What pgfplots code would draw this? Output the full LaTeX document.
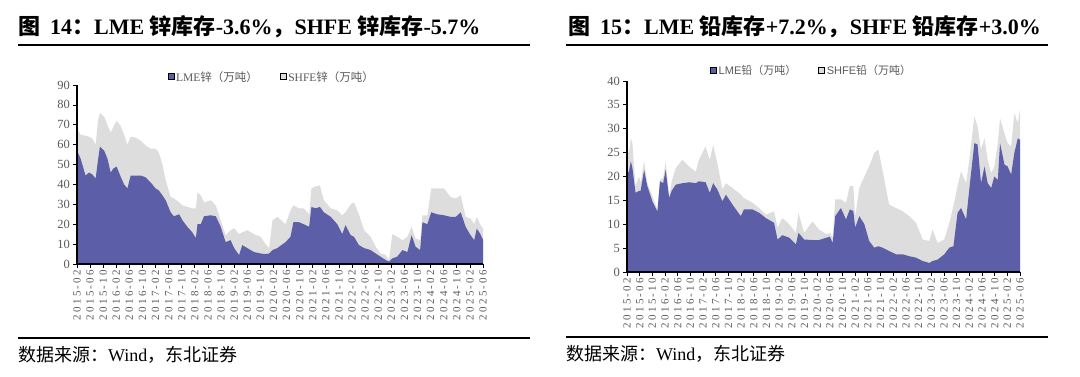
\documentclass[border=0pt]{standalone}
\usepackage{fontspec}
\setmainfont{Liberation Serif}
\setsansfont{Liberation Sans}
\newfontfamily\cjk{Noto Sans CJK SC}
\usepackage{pgfplots}
\usepackage{pgfplotstable}
\pgfplotsset{compat=1.18}
\definecolor{lmeblue}{HTML}{5C5FA8}
\definecolor{shfegray}{HTML}{DDDDDD}
\definecolor{ticktxt}{HTML}{595959}

% month index: 0 = 2015-02, 124 = 2025-06 ; lme = LME stock, tot = LME + SHFE
\pgfplotstableread{
m lme tot
0 57 68
1.1 53 65
2.6 44.5 64.5
3.7 46 64
4.7 45 63
5.7 43 60
6.4 52 72
7 59 76
8.3 57 74
9.3 53 70
10.3 46 66
11.1 48 69
12.1 49 72
13.3 44 69.5
14.4 40 65
15.4 38 60
16.4 44.5 64
17.9 44.5 63.5
19.5 44.5 62
21 43.5 59.5
22.5 41 58
24 38 58
25 37 56
26.1 34.5 50
27.1 32 42
28.6 26 33.7
29.6 24 33
31.2 25 31
32.2 22 29.5
33.7 18.7 28.7
35.2 16 28
36.3 13 28
36.8 20 36
37.8 20 34.5
38.8 24 31
40.8 24.5 32
42.4 24 29.5
43.9 18.7 22
45.4 11 14.5
46.9 12 17
48 8 18
49.5 4.5 15
50.5 9.5 16
52 8 17
54.1 6 15
56.1 5.3 13.7
57.6 5 10
58.7 5.3 8
59.7 7 22
61.2 8 23.7
62.4 9.5 22
63.7 11 20
65.2 13.7 27
66.1 21 29.5
67.8 21 28
69.3 20 28
70.9 18.7 25
71.6 28.7 38
72.9 28 39
74.2 28.7 39.5
75.4 26 32
77.5 23.7 28
79.5 20 27
81 15 24.5
82 19.5 26
83.6 14.5 30
84.6 13.7 31
86.1 9.5 25
87.7 8 17
89.7 7 13.7
91.2 5.3 8.7
92.7 3.7 5.3
94.3 2 4.5
95.3 1.2 2
96.3 2.8 15
97.8 3.7 13.7
99.4 7 12
100.9 6 13.7
102.2 14.5 18.7
103.4 8.7 12.8
104.8 7 12
105.5 21 24.5
107 20 24.5
108.2 26 38
110 25 38
112.1 24.5 38
114.1 23.7 33.7
115.7 23.7 33
117.2 26 34.5
118.7 18.7 23.7
120.2 14.5 22.8
121.3 12 20
122.1 17.8 23.7
123.1 15.3 20
124 12.3 17.8
}\zinc

\pgfplotstableread{
m lme tot
0 20.7 26
0.6 21 25
1.2 23.2 28
1.7 21.8 27
2.7 16.6 18
3.8 17 20
4.3 17 18.7
5.4 21.4 23.2
6.4 18 18.7
8 14.8 15.9
9.6 12.7 13.1
10.4 19 19.3
11.4 18.6 19.7
12.2 21.4 23.2
13.3 15.5 15.9
14.1 17 19
15.4 18.3 21.8
17.5 18.6 23.5
19.6 18.8 22.1
21.7 18.6 21
22.7 19 23.5
24.8 18.8 26.3
26.1 16.6 23.5
27.2 18.6 26.6
28.5 17.3 22.8
30.1 14.8 17.3
31.2 16.2 18.6
33.3 14.1 17.6
35.9 11.7 16.2
36.9 13.1 15.5
39.6 13.1 14.5
41.7 12.4 13.4
43.8 11.3 12
46.4 10.3 12.7
47.5 6.8 9.3
49 7.7 11.3
51.2 7.2 10
53.3 5.8 8.2
54.1 8.2 12.4
55.9 6.8 8.2
58.5 6.7 10.6
60.6 6.7 8.9
63 7.2 7.9
64 7.4 8.2
64.9 6.1 7.2
65.7 11.7 15.2
67.5 13.4 15.2
69.1 11 14.5
70.3 13.1 18
71.4 12.8 18
72 9.3 11.5
73.3 11.7 17.6
74.9 10 20
76.4 6.5 22.1
78 5.1 24.9
79.3 5.4 25.7
80.6 5.1 21.4
82.7 4.4 14.1
84.9 3.7 13.4
87 3.7 12.7
89.1 3.3 11.7
91.2 3 10.3
93.3 2.3 6.8
95.4 1.9 6.5
96.4 2.3 8.9
98 2.6 6.1
100.1 3.7 6.8
101.7 5.1 10.3
103 5.4 13.8
104.3 12.4 18
105.4 13.4 21.1
107 11 18.6
108 17.3 23.5
109.6 27 32.6
110.6 26.7 30.5
111.7 18.6 25.6
112.8 22.1 28
113.8 18.6 23.5
114.9 17.6 20.7
115.9 20 22.1
117 19.3 27
117.7 27 32.2
119.1 22.5 29
120.1 22.1 27
121.2 20.4 26.3
122.2 24.9 33.3
123.3 28 31.2
124 27.7 34
}\lead

\pgfplotsset{
  panel/.style={
    scale only axis,
    axis on top,
    axis lines*=left,
    xmin=0, xmax=124,
    xtick={0,4,...,124},
    xticklabels={2015-02,2015-06,2015-10,2016-02,2016-06,2016-10,2017-02,2017-06,2017-10,2018-02,2018-06,2018-10,2019-02,2019-06,2019-10,2020-02,2020-06,2020-10,2021-02,2021-06,2021-10,2022-02,2022-06,2022-10,2023-02,2023-06,2023-10,2024-02,2024-06,2024-10,2025-02,2025-06},
    x tick label style={rotate=90, anchor=east, font=\fontsize{11}{11}\selectfont\addfontfeatures{LetterSpace=20}, text=ticktxt, inner sep=2pt},
    y tick label style={font=\fontsize{12.5}{12.5}\selectfont, text=ticktxt, inner sep=3pt},
    /pgf/number format/assume math mode=true,
    tick align=outside,
    major tick length=4pt,
    tick style={black, line width=0.8pt},
    axis line style={black, line width=1.2pt},
    legend columns=2,
    legend style={draw=none, fill=none, inner sep=0pt, text=ticktxt,
      /tikz/every even column/.append style={column sep=20pt}},
    legend image code/.code={\fill[##1] (0pt,-2.5pt) rectangle (6pt,3.5pt);},
  }
}

\begin{document}
\begin{tikzpicture}
\path (0pt,0pt) rectangle (1080pt,-376pt);

% ---------- left panel ----------
\node[anchor=base west, inner sep=0pt, font=\fontsize{22}{26}\selectfont\bfseries] at (18pt,-34pt)
  {{\cjk\bfseries 图}\hspace{10pt}14{\cjk\bfseries ：}LME {\cjk\bfseries 锌库存}-3.6\%{\cjk\bfseries ，}SHFE {\cjk\bfseries 锌库存}-5.7\%};
\draw[line width=2pt] (18pt,-44.5pt) -- (530pt,-44.5pt);
\draw[line width=1.8pt] (18pt,-338pt) -- (530pt,-338pt);
\node[anchor=base west, inner sep=0pt, font=\fontsize{18}{20}\selectfont] at (18pt,-361pt)
  {{\cjk 数据来源：}Wind{\cjk ，东北证券}};

\begin{axis}[panel,
  at={(77pt,-264pt)}, anchor=south west,
  width=406pt, height=179pt,
  ymin=0, ymax=90, ytick={0,10,...,90},
  legend style={at={(0.48,1)}, anchor=center, yshift=8pt,
    font=\fontsize{11.5}{12}\selectfont},
]
\addlegendimage{fill=lmeblue}
\addlegendentry{LME{\cjk 锌（万吨）}}
\addlegendimage{fill=shfegray}
\addlegendentry{SHFE{\cjk 锌（万吨）}}
\addplot[fill=shfegray, draw=none, forget plot] table[x=m, y=tot] {\zinc} \closedcycle;
\addplot[fill=lmeblue, draw=none, forget plot] table[x=m, y=lme] {\zinc} \closedcycle;
\end{axis}

% ---------- right panel ----------
\node[anchor=base west, inner sep=0pt, font=\fontsize{22}{26}\selectfont\bfseries] at (568pt,-34pt)
  {{\cjk\bfseries 图}\hspace{10pt}15{\cjk\bfseries ：}LME {\cjk\bfseries 铅库存}+7.2\%{\cjk\bfseries ，}SHFE {\cjk\bfseries 铅库存}+3.0\%};
\draw[line width=2pt] (566pt,-44.5pt) -- (1048pt,-44.5pt);
\draw[line width=1.8pt] (566pt,-337pt) -- (1048pt,-337pt);
\node[anchor=base west, inner sep=0pt, font=\fontsize{18}{20}\selectfont] at (566pt,-360pt)
  {{\cjk 数据来源：}Wind{\cjk ，东北证券}};

\begin{axis}[panel,
  at={(627pt,-272pt)}, anchor=south west,
  width=393pt, height=191pt,
  ymin=0, ymax=40, ytick={0,5,...,40},
  legend style={at={(0.47,1)}, anchor=center, yshift=10pt,
    font=\sffamily\fontsize{11}{12}\selectfont},
]
\addlegendimage{fill=lmeblue}
\addlegendentry{LME{\cjk 铅（万吨）}}
\addlegendimage{fill=shfegray}
\addlegendentry{SHFE{\cjk 铅（万吨）}}
\addplot[fill=shfegray, draw=none, forget plot] table[x=m, y=tot] {\lead} \closedcycle;
\addplot[fill=lmeblue, draw=none, forget plot] table[x=m, y=lme] {\lead} \closedcycle;
\end{axis}
\end{tikzpicture}
\end{document}
